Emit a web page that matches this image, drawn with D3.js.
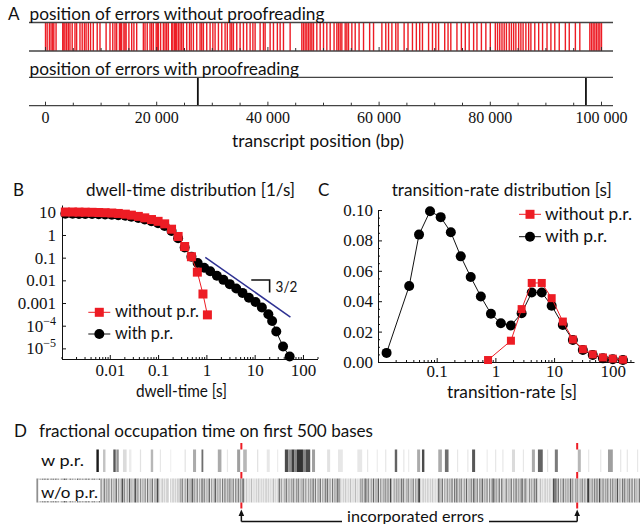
<!DOCTYPE html>
<html>
<head>
<meta charset="utf-8">
<title>proofreading errors</title>
<style>
  body { margin: 0; background: #fff; }
  svg text { font-family: Lato, "Open Sans", sans-serif; fill: #111; }
  .num text, text.num { font-family: "Liberation Serif", "DejaVu Serif", serif; font-size: 17px; fill: #111; }
  .numA text { font-family: "Liberation Serif", "DejaVu Serif", serif; font-size: 16px; fill: #111; }
</style>
</head>
<body>
<script src="https://d3js.org/d3.v7.min.js"></script>
<script>
// ---------- data ----------
// A: error positions along the transcript (kbp)
const errorsWithout = [0.0, 0.3, 0.7, 1.0, 1.3, 1.5, 1.9, 3.1, 3.3, 3.5, 3.8, 4.1, 4.4, 4.8, 5.3, 5.6, 6.2, 6.6, 7.0, 7.3,
  7.7, 8.1, 8.6, 9.3, 9.8, 10.9, 11.6, 12.1, 12.5, 12.8, 13.3, 13.5, 13.7, 14.1, 14.3, 14.5, 15.0, 15.5, 15.9, 16.4,
  17.6, 17.9, 18.3, 18.8, 19.1, 19.4, 19.9, 20.1, 20.3, 20.7, 21.2, 21.5, 21.8, 22.1, 22.7, 22.9, 23.2, 23.4, 23.6,
  23.9, 24.2, 24.5, 24.8, 25.4, 25.9, 26.2, 26.6, 27.2, 27.8, 28.1, 28.4, 29.0, 29.6, 30.1, 30.5, 31.1, 31.7, 32.3,
  32.7, 33.2, 33.5, 33.8, 34.4, 35.0, 35.6, 36.2, 36.8, 37.3, 37.7, 38.6, 39.2, 39.5, 40.4, 41.0, 41.7, 42.2, 42.8,
  44.0, 46.1, 46.4, 46.7, 47.0, 47.3, 47.6, 47.9, 48.2, 48.8, 49.4, 50.0, 50.6, 51.2, 51.9, 52.4, 52.7, 53.0, 53.3,
  53.9, 54.2, 54.5, 55.1, 55.7, 56.4, 57.2, 58.3, 59.0, 60.5, 61.2, 61.7, 62.3, 63.0, 63.4, 64.5, 65.2, 66.0, 66.7,
  67.3, 67.8, 68.9, 69.6, 70.2, 70.7, 71.8, 72.4, 72.9, 74.0, 74.8, 75.5, 76.2, 77.0, 77.6, 78.4, 79.2, 80.0, 80.9,
  81.3, 81.7, 82.1, 82.5, 82.9, 83.4, 83.8, 84.2, 84.6, 85.1, 85.5, 85.9, 86.4, 86.9, 87.3, 88.0, 88.7, 89.4, 90.2,
  90.9, 91.6, 92.4, 93.5, 94.2, 95.3, 96.1, 97.9, 98.2, 98.5, 98.8, 99.1, 99.4, 99.7, 100.0];
const errorsWith = [27.4, 97.2];
const posTicks = [0, 20000, 40000, 60000, 80000, 100000];
const posTickLabels = ["0", "20 000", "40 000", "60 000", "80 000", "100 000"];

// B: dwell-time distribution
const dwellTimeNo = [0.0012, 0.0017, 0.0023, 0.0031, 0.0043, 0.0059, 0.008, 0.011, 0.015, 0.021, 0.028, 0.039,
  0.053, 0.073, 0.10, 0.137, 0.19, 0.26, 0.355, 0.49, 0.65, 0.85, 1.05];
const dwellRateNo = [10.3, 10.3, 10.2, 10.1, 10.0, 9.8, 9.6, 9.3, 8.9, 8.3, 7.5, 6.6,
  5.7, 4.8, 4.0, 3.1, 1.8, 0.86, 0.31, 0.11, 0.023, 0.0025, 0.0003];
const dwellTimePr = [0.0012, 0.0017, 0.0023, 0.0031, 0.0043, 0.0059, 0.008, 0.011, 0.015, 0.021, 0.028, 0.039,
  0.053, 0.073, 0.10, 0.137, 0.19, 0.26, 0.355, 0.49, 0.66, 0.9, 1.2, 1.65, 2.25, 3.05, 4.15, 5.6, 7.6, 10.4,
  14.1, 19.2, 23, 28, 38.7, 53];
const dwellRatePr = [8.6, 8.6, 8.5, 8.5, 8.4, 8.3, 8.1, 7.9, 7.5, 7.0, 6.4, 5.6,
  4.8, 4.0, 3.3, 2.5, 1.5, 0.72, 0.28, 0.11, 0.058, 0.036, 0.025, 0.016, 0.0105, 0.0068, 0.0044, 0.0028, 0.0017, 0.0011,
  0.00063, 0.00032, 0.00016, 0.000055, 0.000012, 0.0000044];
const slopeLine = [[0.95, 0.104], [55, 0.00024]];
const slopeMark = [[8.5, 0.0104], [20.4, 0.0104], [20.4, 0.0029]];
const dwellTicks = [0.01, 0.1, 1, 10, 100];
const dwellTickLabels = ["0.01", "0.1", "1", "10", "100"];
const rateTicks = [10, 1, 0.1, 0.01, 0.001, 1e-4, 1e-5];
const rateTickLabels = ["10", "1", "0.1", "0.01", "0.001", "10^\u22124", "10^\u22125"];

// C: transition-rate distribution
const transNo = [0.75, 1.84, 2.8, 4.16, 6.17, 9.1, 14.1, 20.9, 30.9, 45.6, 68, 100, 149];
const probNo = [0.0013, 0.014, 0.0348, 0.052, 0.052, 0.042, 0.0266, 0.0148, 0.0084, 0.0050, 0.0030, 0.0022, 0.0015];
const transPr = [0.014, 0.034, 0.050, 0.077, 0.117, 0.174, 0.257, 0.38, 0.565, 0.84, 1.24, 1.84, 2.8, 4.16, 6.17,
  9.1, 14.1, 20.9, 30.9, 45.6, 68, 100, 149];
const probPr = [0.006, 0.050, 0.0838, 0.0992, 0.0953, 0.0854, 0.0695, 0.0559, 0.0431, 0.0317, 0.0255, 0.024, 0.0321,
  0.0457, 0.0457, 0.037, 0.0244, 0.0145, 0.0079, 0.0046, 0.0024, 0.0018, 0.0013];
const transTicks = [0.1, 1, 10, 100];
const transTickLabels = ["0.1", "1", "10", "100"];
const probTicks = [0, 0.02, 0.04, 0.06, 0.08, 0.10];
const probTickLabels = ["0.00", "0.02", "0.04", "0.06", "0.08", "0.10"];

// D: occupation time on first 500 bases, [base, width, darkness]
const occWith = [[50, 2, 0.95], [55.5, 2, 0.25], [64, 2, 0.7], [66.5, 2, 0.45], [72, 3, 0.15], [77, 2, 0.08],
  [86, 1, 0.12], [95, 2, 0.3], [102.5, 1, 0.1], [111, 1, 0.06], [123, 1, 0.12], [130, 2.5, 0.35], [137, 1.5, 0.6],
  [150.5, 3, 0.35], [158, 1, 0.1], [166.5, 2.5, 0.4], [171.5, 3, 0.3], [183, 1, 0.12], [191, 2.5, 0.1], [199.5, 1, 0.08],
  [206, 3, 0.75], [209, 2.5, 0.45], [211.5, 2.5, 0.8], [214, 2, 0.5], [216, 5, 0.85], [221, 2.5, 0.5], [223.5, 3.5, 0.75],
  [228.5, 2.5, 0.4], [241, 2.5, 0.12], [250, 4, 0.1], [266, 4, 0.1], [274, 1, 0.1], [282, 1, 0.08], [289, 1, 0.1],
  [297, 2, 0.65], [304, 1, 0.1], [308, 1, 0.08], [315.5, 2.5, 0.35], [319.5, 2, 0.75], [333, 3, 0.35], [338.5, 3, 0.6],
  [348.5, 1, 0.1], [357, 1, 0.1], [361, 2.5, 0.7], [373, 1, 0.08], [380, 1, 0.1], [386, 1, 0.1], [394, 2.5, 0.15],
  [403, 1, 0.1], [410.5, 2.5, 0.35], [415.5, 4, 0.65], [423, 1, 0.12], [429.5, 2.5, 0.55], [448.5, 2.5, 0.3],
  [457, 1, 0.1], [467, 1, 0.1], [473.5, 4, 0.4], [483.5, 1, 0.1], [489, 1, 0.1], [497.5, 1, 0.1]];
const occWithout = [
  "36142537254163527341253746135252417362433725416352",
  "42635172436152437152483615273425836152435172436153",
  "84213121320213121324361527344735261428352437152472",
  "43516272436435172625392131213121213121213121213121",
  "36251436252437153624352614253726153615263725162536",
  "45212131213121312143528436152725371624353628415243",
  "52637143524351627821312131213121284361525243716382",
  "43615272435294351637243615258435271642352436153724",
  "35824631525263721312131213128783615272435273614352",
  "43526179435263728436243715263438251637243627153426"].join("");
const errorBases = [170, 448];

// ---------- drawing ----------
const red = "#ed1c24";
const svg = d3.select("body").append("svg").attr("width", 640).attr("height", 524);

function label(x, y, s, size, width, anchor = "start") {
  const t = svg.append("text").attr("x", x).attr("y", y).attr("font-size", size)
    .attr("text-anchor", anchor).text(s);
  if (width) t.attr("textLength", width).attr("lengthAdjust", "spacingAndGlyphs");
  return t;
}

// minor ticks only, no labels
function minor(g, axis) {
  const m = g.append("g").call(axis.tickFormat(""));
  m.select(".domain").remove();
  m.selectAll("text").remove();
}

// ----- panel A -----
const xA = d3.scaleLinear().domain([0, 100000]).range([45.5, 601.5]);
const strips = [
  { top: 22.5, bot: 51, errs: errorsWithout, color: red, w: 1.4 },
  { top: 77.3, bot: 105.7, errs: errorsWith, color: "#111", w: 1.8 }];
strips.forEach(s => {
  svg.append("g").selectAll("line").data(s.errs).join("line")
    .attr("x1", d => xA(d * 1000)).attr("x2", d => xA(d * 1000))
    .attr("y1", s.top).attr("y2", s.bot)
    .attr("stroke", s.color).attr("stroke-width", s.w);
  [s.top, s.bot].forEach(y => svg.append("line").attr("x1", 29).attr("x2", 613)
    .attr("y1", y).attr("y2", y).attr("stroke", "#444").attr("stroke-width", 1.3));
  svg.append("g").selectAll("line").data(xA.ticks(20)).join("line")
    .attr("x1", d => xA(d)).attr("x2", d => xA(d))
    .attr("y1", s.bot).attr("y2", d => s.bot - (d % 20000 === 0 ? 4 : 3))
    .attr("stroke", "#333").attr("stroke-width", 1);
});
svg.append("g").attr("class", "numA").selectAll("text").data(posTicks).join("text")
  .attr("x", d => xA(d)).attr("y", 123).attr("text-anchor", "middle")
  .text((d, i) => posTickLabels[i]);
label(8, 20, "A", 17);
label(29.5, 20, "position of errors without proofreading", 17, 295);
label(29.5, 75, "position of errors with proofreading", 17, 269.5);
label(318, 146.5, "transcript position (bp)", 17, 172, "middle");

// ----- panel B -----
const xB = d3.scaleLog().domain([0.001, 200]).range([61.5, 317.5]);
const yB = d3.scaleLog().domain([3.4e-6, 21]).range([359, 205]);

const bx = svg.append("g").attr("class", "num").attr("transform", "translate(0,359)");
bx.call(d3.axisBottom(xB).tickValues(dwellTicks).tickSize(-4).tickSizeOuter(0).tickPadding(5)
  .tickFormat((d, i) => dwellTickLabels[i]));
minor(bx, d3.axisBottom(xB).tickValues(xB.ticks().filter(d => !dwellTicks.includes(d))).tickSize(-2));

const by = svg.append("g").attr("class", "num").attr("transform", "translate(62,0)");
by.call(d3.axisLeft(yB).tickValues(rateTicks).tickSize(-4).tickSizeOuter(0).tickPadding(6).tickFormat(""));
by.selectAll(".tick text").each(function (d, i) {
  const parts = rateTickLabels[i].split("^");
  const t = d3.select(this).text(parts[0]);
  if (parts[1]) t.append("tspan").attr("dy", -7).attr("font-size", 12).text(parts[1]);
});

const lineB = d3.line().x(d => xB(d[0])).y(d => yB(d[1]));
const ptsBPr = dwellTimePr.map((t, i) => [t, dwellRatePr[i]]);
const ptsBNo = dwellTimeNo.map((t, i) => [t, dwellRateNo[i]]);
svg.append("path").attr("d", lineB(ptsBPr)).attr("fill", "none").attr("stroke", "#111");
svg.append("g").selectAll("circle").data(ptsBPr).join("circle")
  .attr("cx", d => xB(d[0])).attr("cy", d => yB(d[1])).attr("r", 5).attr("fill", "#000");
svg.append("path").attr("d", lineB(ptsBNo)).attr("fill", "none").attr("stroke", red);
svg.append("g").selectAll("rect").data(ptsBNo).join("rect")
  .attr("x", d => xB(d[0]) - 4.5).attr("y", d => yB(d[1]) - 4.5)
  .attr("width", 9).attr("height", 9).attr("fill", red);
svg.append("path").attr("d", lineB(slopeLine)).attr("stroke", "#2e3192").attr("stroke-width", 1.5);
svg.append("path").attr("d", lineB(slopeMark)).attr("fill", "none").attr("stroke", "#111").attr("stroke-width", 1.6);
label(xB(slopeMark[1][0]) + 6, yB(0.0031), "3/2", 16, 21.7);

// legend
function legend(x, y, kind) {
  svg.append("line").attr("x1", x - 11).attr("x2", x + 11).attr("y1", y).attr("y2", y)
    .attr("stroke", kind === "sq" ? red : "#111");
  if (kind === "sq") svg.append("rect").attr("x", x - 4.5).attr("y", y - 4.5).attr("width", 9).attr("height", 9).attr("fill", red);
  else svg.append("circle").attr("cx", x).attr("cy", y).attr("r", 5).attr("fill", "#000");
}
legend(99.3, 312.3, "sq");
legend(99.3, 334, "ci");
label(115, 317, "without p.r.", 18, 84);
label(115, 338.5, "with p.r.", 18, 58);
label(13, 196, "B", 17);
label(86, 196, "dwell-time distribution [1/s]", 17.5, 209);
label(181.5, 396.5, "dwell-time [s]", 16.5, 91, "middle");

// ----- panel C -----
const xC = d3.scaleLog().domain([0.01, 230]).range([378, 634]);
const yC = d3.scaleLinear().domain([0, 0.1]).range([362, 210]);

const cx = svg.append("g").attr("class", "num").attr("transform", "translate(0,362)");
cx.call(d3.axisBottom(xC).tickValues(transTicks).tickSize(-4).tickSizeOuter(0).tickPadding(3)
  .tickFormat((d, i) => transTickLabels[i]));
minor(cx, d3.axisBottom(xC).tickValues(xC.ticks().filter(d => !transTicks.includes(d))).tickSize(-2));
const cy = svg.append("g").attr("class", "num").attr("transform", "translate(378,0)");
cy.call(d3.axisLeft(yC).tickValues(probTicks).tickSize(-4).tickSizeOuter(0).tickPadding(5)
  .tickFormat((d, i) => probTickLabels[i]));
minor(cy, d3.axisLeft(yC).tickValues(yC.ticks(20).filter(d => Math.round(d * 1000) % 20 !== 0)).tickSize(-2));
svg.selectAll(".domain, .tick line").attr("stroke", "#111");

const lineC = d3.line().x(d => xC(d[0])).y(d => yC(d[1]));
const ptsCPr = transPr.map((t, i) => [t, probPr[i]]);
const ptsCNo = transNo.map((t, i) => [t, probNo[i]]);
svg.append("path").attr("d", lineC(ptsCPr)).attr("fill", "none").attr("stroke", "#111");
svg.append("g").selectAll("circle").data(ptsCPr).join("circle")
  .attr("cx", d => xC(d[0])).attr("cy", d => yC(d[1])).attr("r", 5).attr("fill", "#000");
svg.append("path").attr("d", lineC(ptsCNo)).attr("fill", "none").attr("stroke", red);
svg.append("g").selectAll("rect").data(ptsCNo).join("rect")
  .attr("x", d => xC(d[0]) - 4).attr("y", d => yC(d[1]) - 4)
  .attr("width", 8).attr("height", 8).attr("fill", red);
legend(530, 214.3, "sq");
legend(530, 236.7, "ci");
label(545, 219.5, "without p.r.", 18, 87);
label(545, 241.7, "with p.r.", 18, 62);
label(318, 196, "C", 17);
label(391.7, 196, "transition-rate distribution [s]", 17.5, 220);
label(512, 397.5, "transition-rate [s]", 16.5, 130, "middle");

// ----- panel D -----
const xD = d3.scaleLinear().domain([0, 500]).range([36, 640]);
const shade = v => d3.rgb(255 - 240 * v, 255 - 240 * v, 255 - 240 * v);
svg.append("g").selectAll("rect").data(occWith).join("rect")
  .attr("x", d => xD(d[0])).attr("width", d => xD(d[1]) - xD(0))
  .attr("y", 449.5).attr("height", 22.5).attr("fill", d => shade(d[2]));
svg.append("g").selectAll("rect").data(occWithout.split("")).join("rect")
  .attr("x", (d, i) => xD(i)).attr("width", xD(1) - xD(0))
  .attr("y", 478.5).attr("height", 24).attr("fill", d => shade(0.85 * d / 9));
svg.append("rect").attr("x", 38.5).attr("y", 480).attr("width", 61.5).attr("height", 21).attr("fill", "#fff");
errorBases.forEach(b => {
  [[443, 449.5], [472, 478.5], [502.5, 508.5]].forEach(([y1, y2]) =>
    svg.append("line").attr("x1", xD(b)).attr("x2", xD(b)).attr("y1", y1).attr("y2", y2)
      .attr("stroke", red).attr("stroke-width", 2));
  svg.append("line").attr("x1", xD(b)).attr("x2", xD(b)).attr("y1", 521.5).attr("y2", 514)
    .attr("stroke", "#111").attr("stroke-width", 1.5);
  svg.append("path").attr("d", `M${xD(b) - 2.8},516 L${xD(b)},509.5 L${xD(b) + 2.8},516 Z`).attr("fill", "#111");
});
svg.append("line").attr("x1", xD(errorBases[0])).attr("x2", 342).attr("y1", 521.5).attr("y2", 521.5)
  .attr("stroke", "#111").attr("stroke-width", 1.5);
svg.append("line").attr("x1", 489).attr("x2", xD(errorBases[1])).attr("y1", 521.5).attr("y2", 521.5)
  .attr("stroke", "#111").attr("stroke-width", 1.5);
label(14, 437, "D", 17);
label(39, 437, "fractional occupation time on first 500 bases", 17, 334);
label(41, 466, "w p.r.", 16, 43);
label(41, 497.5, "w/o p.r.", 16, 57);
label(415.5, 522, "incorporated errors", 16, 137, "middle");
</script>
</body>
</html>
